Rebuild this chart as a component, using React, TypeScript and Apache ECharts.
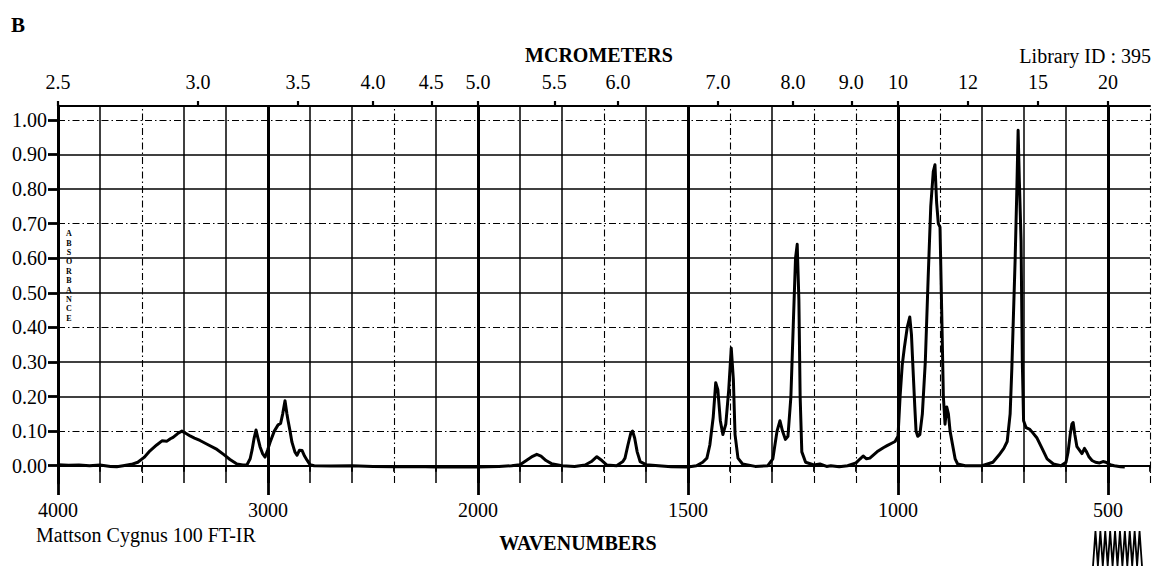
import { useEffect, useRef } from 'react';
import * as echarts from 'echarts';

// ---- Data (wavenumber cm-1, absorbance) ----
const wavenumbers = [
  4000, 3950, 3900, 3850, 3800, 3750, 3720, 3690, 3650, 3620, 3590, 3562, 3530, 3505, 3481, 3465, 3452, 3430, 3410, 3390,
  3371, 3350, 3324, 3290, 3243, 3210, 3181, 3148, 3120, 3100, 3085, 3076, 3066, 3057, 3048, 3038, 3026, 3014, 3002, 2990,
  2970, 2952, 2940, 2930, 2919, 2910, 2905, 2895, 2886, 2872, 2862, 2850, 2838, 2826, 2814, 2800, 2780, 2700, 2600, 2500,
  2400, 2300, 2200, 2100, 2000, 1950, 1920, 1900, 1885, 1870, 1860, 1850, 1838, 1825, 1800, 1770, 1745, 1730, 1717, 1705,
  1693, 1670, 1655, 1650, 1643, 1636, 1632, 1627, 1621, 1614, 1600, 1570, 1540, 1500, 1480, 1465, 1455, 1448, 1440, 1434,
  1429, 1423, 1417, 1410, 1403, 1397, 1392, 1388, 1381, 1370, 1340, 1310, 1298, 1288, 1281, 1275, 1268, 1262, 1255, 1249,
  1244, 1240, 1236, 1233, 1229, 1220, 1200, 1186, 1170, 1160, 1140, 1120, 1100, 1090, 1083, 1075, 1067, 1050, 1035, 1026,
  1015, 1007, 1000, 995, 990, 985, 978, 972, 968, 965, 960, 957, 953, 948, 942, 935, 928, 922, 916, 912,
  908, 904, 900, 896, 892, 888, 884, 880, 876, 870, 864, 858, 840, 800, 774, 760, 748, 740, 733, 729,
  726, 721, 717, 714, 711, 707, 704, 701, 695, 686, 679, 669, 657, 645, 630, 612, 600, 595, 590, 586,
  583, 579, 574, 568, 562, 556, 551, 545, 538, 530, 520, 512, 505, 495, 485, 470, 460,
];
const absorbance = [
  0.003, 0.001, 0.002, 0.0, 0.002, -0.002, -0.003, 0.0, 0.004, 0.01, 0.024, 0.043, 0.06, 0.072, 0.071, 0.078, 0.082, 0.093, 0.1, 0.093,
  0.086, 0.08, 0.073, 0.062, 0.047, 0.032, 0.018, 0.005, 0.002, 0.003, 0.02, 0.045, 0.08, 0.103, 0.08, 0.055, 0.035, 0.025, 0.045, 0.068,
  0.1, 0.118, 0.122, 0.15, 0.188, 0.15, 0.132, 0.1, 0.068, 0.04, 0.03, 0.045, 0.044, 0.028, 0.016, 0.003, 0.0, -0.001, 0.0, -0.002,
  -0.003, -0.002, -0.004, -0.003, -0.004, -0.002, 0.0, 0.003, 0.015, 0.027, 0.033, 0.028, 0.015, 0.006, 0.0, -0.002, 0.002, 0.012, 0.026, 0.015,
  0.002, 0.0, 0.012, 0.022, 0.06, 0.095, 0.1, 0.08, 0.04, 0.012, 0.003, 0.0, -0.003, -0.004, 0.0, 0.01, 0.022, 0.06, 0.14, 0.24,
  0.22, 0.13, 0.09, 0.12, 0.22, 0.34, 0.25, 0.09, 0.022, 0.005, -0.002, 0.0, 0.02, 0.1, 0.13, 0.1, 0.076, 0.085, 0.2, 0.42,
  0.6, 0.64, 0.48, 0.2, 0.04, 0.01, 0.002, 0.005, -0.002, 0.0, -0.003, 0.0, 0.008, 0.02, 0.028, 0.02, 0.022, 0.04, 0.052, 0.058,
  0.065, 0.07, 0.085, 0.2, 0.29, 0.34, 0.4, 0.43, 0.38, 0.3, 0.17, 0.1, 0.085, 0.09, 0.15, 0.3, 0.55, 0.75, 0.85, 0.87,
  0.76, 0.7, 0.69, 0.45, 0.2, 0.12, 0.17, 0.15, 0.1, 0.06, 0.02, 0.005, 0.0, 0.0, 0.01, 0.03, 0.05, 0.07, 0.15, 0.28,
  0.4, 0.6, 0.8, 0.97, 0.82, 0.65, 0.3, 0.13, 0.11, 0.105, 0.095, 0.08, 0.05, 0.02, 0.005, 0.0, 0.01, 0.04, 0.09, 0.12,
  0.125, 0.09, 0.055, 0.045, 0.035, 0.05, 0.04, 0.025, 0.015, 0.01, 0.008, 0.012, 0.01, 0.003, 0.0, -0.003, -0.004,
];

// Tick labels
const bottomTickLabels = ['4000', '3000', '2000', '1500', '1000', '500'];
const topTickLabels = ['2.5', '3.0', '3.5', '4.0', '4.5', '5.0', '5.5', '6.0', '7.0', '8.0', '9.0', '10', '12', '15', '20'];
const yTickLabels = ['0.00', '0.10', '0.20', '0.30', '0.40', '0.50', '0.60', '0.70', '0.80', '0.90', '1.00'];

// Grid line styling (which lines are heavy / dash-dotted)
const heavyGridWn = [3000, 2000, 1500, 1000, 500];
const dashedGridWn = [3600, 2400, 1700, 1400, 1200, 1100, 900, 400];
const dashedGridAbs = [0.1, 0.4, 0.7, 1.0];

// Piecewise-linear IR scale: 4000-2000 compressed by 2x relative to 2000-400
function toU(wn: number) {
  return wn >= 2000 ? 4000 - wn : 2000 + 2 * (2000 - wn);
}
function fromU(u: number) {
  return u <= 2000 ? 4000 - u : 2000 - (u - 2000) / 2;
}

const FONT = "'Liberation Serif', 'Times New Roman', serif";

export default function App() {
  const ref = useRef<HTMLDivElement>(null);

  useEffect(() => {
    if (!ref.current) return;
    const chart = echarts.init(ref.current, null, { renderer: 'svg' });

    const spectrum = wavenumbers.map((w, i) => [toU(w), absorbance[i]]);
    const bottomU = bottomTickLabels.map((s) => toU(Number(s)));
    const topU = topTickLabels.map((s) => toU(10000 / Number(s)));
    const yVals = yTickLabels.map((s) => Number(s));

    const gridLines: any[] = [];
    for (let u = 200; u <= 5200; u += 200) {
      const wn = Math.round(fromU(u));
      const heavy = heavyGridWn.includes(wn);
      const dashed = dashedGridWn.includes(wn);
      gridLines.push({
        xAxis: u,
        lineStyle: {
          color: '#000',
          width: heavy ? 3 : dashed ? 1.1 : 1.5,
          type: dashed ? [7, 3, 1.5, 3] : 'solid',
          opacity: 1,
        },
      });
    }
    yVals.forEach((v) => {
      const dashed = dashedGridAbs.some((d) => Math.abs(d - v) < 1e-6);
      gridLines.push({
        yAxis: v,
        lineStyle: {
          color: '#000',
          width: dashed ? 1.1 : 1.7,
          type: dashed ? [7, 3, 1.5, 3] : 'solid',
          opacity: 1,
        },
      });
    });

    const labelStyle = { color: '#000', fontFamily: FONT, fontSize: 20 };

    const logoPts: number[][] = [];
    for (let i = 0; i <= 20; i++) {
      logoPts.push([1093 + i * 2.45, i % 2 === 0 ? 566 : 531]);
    }

    const option: any = {
      animation: false,
      backgroundColor: '#fff',
      grid: { left: 58, right: 5, top: 106, height: 377, containLabel: false },
      xAxis: [
        {
          type: 'value',
          position: 'bottom',
          min: 0,
          max: 5200,
          interval: 200,
          axisLine: { show: true, lineStyle: { color: '#000', width: 2 } },
          axisTick: { show: true, length: 6, lineStyle: { color: '#000', width: 1.8 } },
          axisLabel: { show: false },
          splitLine: { show: false },
        },
        {
          type: 'value',
          position: 'top',
          min: 0,
          max: 5200,
          axisLine: { show: true, lineStyle: { color: '#000', width: 2 } },
          axisTick: { show: true, length: 5, customValues: topU, lineStyle: { color: '#000', width: 2.2 } },
          axisLabel: {
            show: true,
            customValues: topU,
            margin: 14,
            ...labelStyle,
            formatter: (v: number) => {
              let best = 0;
              topU.forEach((u, i) => {
                if (Math.abs(u - v) < Math.abs(topU[best] - v)) best = i;
              });
              return topTickLabels[best];
            },
          },
          splitLine: { show: false },
        },
        {
          type: 'value',
          position: 'bottom',
          min: 0,
          max: 5200,
          axisLine: { show: false },
          axisTick: { show: true, length: 12, customValues: bottomU, lineStyle: { color: '#000', width: 2.8 } },
          axisLabel: {
            show: true,
            customValues: bottomU,
            margin: 17,
            ...labelStyle,
            formatter: (v: number) => String(Math.round(fromU(v))),
          },
          splitLine: { show: false },
        },
      ],
      yAxis: {
        type: 'value',
        min: -0.05,
        max: 1.04,
        axisLine: { show: true, lineStyle: { color: '#000', width: 3 } },
        axisTick: { show: true, length: 10, customValues: yVals, lineStyle: { color: '#000', width: 2.8 } },
        axisLabel: {
          show: true,
          customValues: yVals,
          margin: 11,
          ...labelStyle,
          formatter: (v: number) => v.toFixed(2),
        },
        splitLine: { show: false },
      },
      series: [
        {
          type: 'line',
          name: 'grid',
          data: [],
          z: 1,
          silent: true,
          markLine: {
            silent: true,
            symbol: ['none', 'none'],
            label: { show: false },
            animation: false,
            data: gridLines,
          },
        },
        {
          type: 'line',
          name: 'spectrum',
          data: spectrum,
          xAxisIndex: 0,
          yAxisIndex: 0,
          showSymbol: false,
          symbol: 'none',
          z: 5,
          lineStyle: { color: '#000', width: 3, join: 'round' },
        },
      ],
      graphic: [
        {
          type: 'text',
          x: 11,
          y: 25,
          style: { text: 'B', fontFamily: FONT, fontSize: 21, fontWeight: 'bold', fill: '#000', align: 'left', verticalAlign: 'middle' },
        },
        {
          type: 'text',
          x: 599,
          y: 55,
          style: { text: 'MCROMETERS', fontFamily: FONT, fontSize: 20, fontWeight: 'bold', fill: '#000', align: 'center', verticalAlign: 'middle' },
        },
        {
          type: 'text',
          x: 1151,
          y: 56,
          style: { text: 'Library ID : 395', fontFamily: FONT, fontSize: 20, fill: '#000', align: 'right', verticalAlign: 'middle' },
        },
        {
          type: 'text',
          x: 36,
          y: 535,
          style: { text: 'Mattson Cygnus 100 FT-IR', fontFamily: FONT, fontSize: 20, fill: '#000', align: 'left', verticalAlign: 'middle' },
        },
        {
          type: 'text',
          x: 578,
          y: 543,
          style: { text: 'WAVENUMBERS', fontFamily: FONT, fontSize: 20, fontWeight: 'bold', fill: '#000', align: 'center', verticalAlign: 'middle' },
        },
        {
          type: 'text',
          x: 69,
          y: 229,
          style: {
            text: 'A\nB\nS\nO\nR\nB\nA\nN\nC\nE',
            fontFamily: FONT,
            fontSize: 8,
            lineHeight: 9.4,
            fontWeight: 'bold',
            fill: '#000',
            align: 'center',
            verticalAlign: 'top',
          },
        },
        {
          type: 'polyline',
          shape: { points: logoPts },
          style: { stroke: '#000', lineWidth: 1.8, fill: 'none' },
        },
      ],
    };

    chart.setOption(option);
    return () => chart.dispose();
  }, []);

  return (
    <div
      ref={ref}
      style={{ position: 'absolute', left: 0, top: 0, width: 1155, height: 566, background: '#fff' }}
    />
  );
}
